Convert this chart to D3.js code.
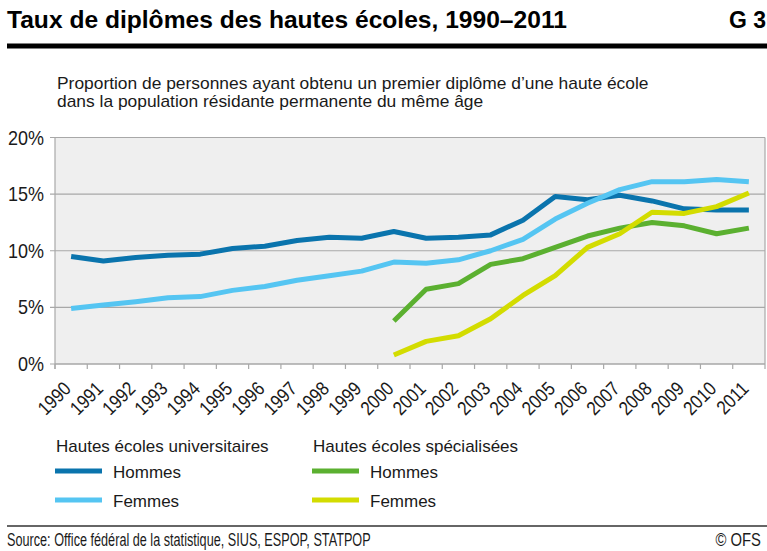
<!DOCTYPE html>
<html>
<head>
<meta charset="utf-8">
<script src="https://cdn.jsdelivr.net/npm/d3@7/dist/d3.min.js"></script>
<style>
  body { margin: 0; background: #fff; }
  text { font-family: "Liberation Sans", Arial, sans-serif; fill: #1a1a1a; }
</style>
</head>
<body>
<script>
// années et séries (en %)
const years = d3.range(1990, 2012).map(String);
const heuHommes = [9.5, 9.1, 9.4, 9.6, 9.7, 10.2, 10.4, 10.9, 11.2, 11.1, 11.7, 11.1, 11.2, 11.4, 12.7, 14.8, 14.5, 14.9, 14.4, 13.7, 13.6, 13.6];
const heuFemmes = [4.9, 5.2, 5.5, 5.85, 5.95, 6.5, 6.85, 7.4, 7.8, 8.2, 9.0, 8.9, 9.2, 10.0, 11.0, 12.8, 14.2, 15.4, 16.1, 16.1, 16.3, 16.1];
const hesHommes = [null, null, null, null, null, null, null, null, null, null, 3.8, 6.6, 7.1, 8.8, 9.3, 10.3, 11.3, 12.0, 12.5, 12.2, 11.5, 12.0];
const hesFemmes = [null, null, null, null, null, null, null, null, null, null, 0.8, 2.0, 2.5, 4.0, 6.05, 7.8, 10.3, 11.5, 13.4, 13.3, 13.9, 15.1];
const yTicks = [0, 5, 10, 15, 20];

const series = [
  { name: "Hommes", values: heuHommes, color: "#0a74ad" },
  { name: "Femmes", values: heuFemmes, color: "#55c5f2" },
  { name: "Hommes", values: hesHommes, color: "#5bb030" },
  { name: "Femmes", values: hesFemmes, color: "#d3dc00" }
];

const width = 767, height = 551;
const plot = { left: 55, right: 765, top: 137.5, bottom: 364 };

const svg = d3.select("body").append("svg")
    .attr("width", width)
    .attr("height", height);

// texte avec étirement horizontal (police condensée de l'original)
function label(parent, x, y, str, size, sx, anchor) {
  return parent.append("text")
      .attr("transform", `translate(${x}, ${y}) scale(${sx}, 1)`)
      .attr("text-anchor", anchor || "start")
      .style("font-size", size + "px")
      .text(str);
}

// titre
label(svg, 7, 28, "Taux de diplômes des hautes écoles, 1990\u20132011", 23, 1.07)
    .style("font-weight", "bold").style("fill", "#000");
label(svg, 766, 28, "G 3", 23, 1.0, "end")
    .style("font-weight", "bold").style("fill", "#000");
svg.append("rect")
    .attr("x", 7).attr("y", 43.5).attr("width", 760).attr("height", 5)
    .attr("fill", "#000");

// sous-titre
label(svg, 57, 89, "Proportion de personnes ayant obtenu un premier diplôme d\u2019une haute école", 16, 1.087);
label(svg, 57, 107, "dans la population résidante permanente du même âge", 16, 1.087);

let scaleX = d3.scaleBand()
    .domain(years)
    .range([plot.left, plot.right]);
let scaleY = d3.scaleLinear()
    .domain([0, 20])
    .range([plot.bottom, plot.top]);

// fond du graphique
svg.append("rect")
    .attr("x", plot.left).attr("y", plot.top)
    .attr("width", plot.right - plot.left).attr("height", plot.bottom - plot.top)
    .attr("fill", "#efefef");

// grille
svg.append("g")
    .selectAll("line")
    .data(yTicks)
    .join("line")
    .attr("x1", plot.left - 5).attr("x2", plot.right)
    .attr("y1", d => scaleY(d)).attr("y2", d => scaleY(d))
    .attr("stroke", "#a8a8a8").attr("stroke-width", 1.2);

svg.append("line")
    .attr("x1", plot.right).attr("x2", plot.right)
    .attr("y1", plot.top).attr("y2", plot.bottom)
    .attr("stroke", "#a8a8a8").attr("stroke-width", 1.2);

// axe Y
let gy = svg.append("g");
yTicks.forEach(d => label(gy, 44, scaleY(d) + 7, d + "%", 20, 0.9, "end"));

// axe X
let axisX = d3.axisBottom(scaleX).tickSize(5).tickSizeOuter(0);
let gx = svg.append("g")
    .attr("transform", `translate(0, ${plot.bottom})`)
    .call(axisX);
gx.select(".domain").attr("stroke", "#a8a8a8").attr("stroke-width", 1.2)
    .attr("d", `M${plot.left},0H${plot.right}`);
gx.selectAll(".tick line").remove();
gx.selectAll(".tick text").remove();
gx.append("g")
    .selectAll("line")
    .data(years.concat(["end"]))
    .join("line")
    .attr("x1", (d, i) => plot.left + i * scaleX.step())
    .attr("x2", (d, i) => plot.left + i * scaleX.step())
    .attr("y1", 0).attr("y2", 5)
    .attr("stroke", "#a8a8a8").attr("stroke-width", 1.2);
gx.append("line")
    .attr("x1", plot.left).attr("x2", plot.left)
    .attr("y1", plot.top - plot.bottom).attr("y2", 5)
    .attr("stroke", "#a8a8a8").attr("stroke-width", 1.2);

svg.append("g")
    .selectAll("text")
    .data(years)
    .join("text")
    .attr("transform", d => `translate(${scaleX(d) + scaleX.bandwidth() / 2 + 1}, 390) rotate(-45) scale(0.86, 1)`)
    .attr("text-anchor", "end")
    .style("font-size", "19.5px")
    .text(d => d);

// courbes
let line = d3.line()
    .defined(d => d.v !== null)
    .x(d => scaleX(d.year) + scaleX.bandwidth() / 2)
    .y(d => scaleY(d.v));

svg.append("g")
    .selectAll("path")
    .data(series)
    .join("path")
    .attr("d", s => line(years.map((y, i) => ({ year: y, v: s.values[i] }))))
    .attr("fill", "none")
    .attr("stroke", s => s.color)
    .attr("stroke-width", 5)
    .attr("stroke-linejoin", "round");

// légende
const legendGroups = [
  { title: "Hautes écoles universitaires", x: 56, items: [series[0], series[1]] },
  { title: "Hautes écoles spécialisées", x: 313, items: [series[2], series[3]] }
];
legendGroups.forEach(g => {
  label(svg, g.x, 452, g.title, 17, 1.0);
  g.items.forEach((s, i) => {
    let y = 471 + i * 29;
    svg.append("line")
        .attr("x1", g.x - 1).attr("x2", g.x + 46)
        .attr("y1", y).attr("y2", y)
        .attr("stroke", s.color).attr("stroke-width", 5);
    label(svg, g.x + 57, y + 7, s.name, 17, 1.0);
  });
});

// source
svg.append("line")
    .attr("x1", 7).attr("x2", 767)
    .attr("y1", 526).attr("y2", 526)
    .attr("stroke", "#333").attr("stroke-width", 1.5);
label(svg, 7, 546, "Source: Office fédéral de la statistique, SIUS, ESPOP, STATPOP", 18.5, 0.685);
label(svg, 761, 546, "© OFS", 18.5, 0.8, "end");
</script>
</body>
</html>
